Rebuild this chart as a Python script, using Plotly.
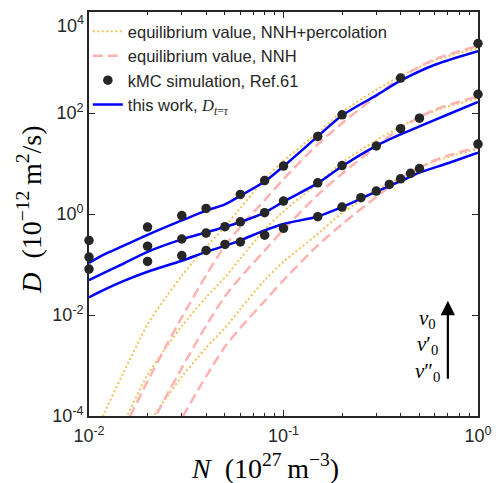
import math
import plotly.graph_objects as go

# ---------------- data ----------------
# equilibrium value, NNH+percolation (yellow dotted) for nu0, nu0', nu0''
N_perc_a = [0.011, 0.012, 0.015, 0.02, 0.025, 0.03, 0.04, 0.05, 0.06, 0.08, 0.1, 0.15, 0.2, 0.3, 0.4, 0.6, 1.0]
D_perc_a = [5.54e-5, 1.15e-4, 7.04e-4, 6.50e-3, 0.0232, 0.060, 0.224, 0.554, 1.31, 4.89, 11.3, 40.4, 104, 288, 541, 1102, 1954]
N_perc_b = [0.012, 0.015, 0.02, 0.025, 0.03, 0.04, 0.05, 0.06, 0.08, 0.1, 0.15, 0.2, 0.3, 0.4, 0.6, 1.0]
D_perc_b = [1.15e-5, 7.04e-5, 6.50e-4, 2.32e-3, 6.0e-3, 0.0224, 0.0554, 0.131, 0.489, 1.13, 4.04, 10.4, 28.8, 54.1, 110.2, 195.4]
N_perc_c = [0.015, 0.02, 0.025, 0.03, 0.04, 0.05, 0.06, 0.08, 0.1, 0.15, 0.2, 0.3, 0.4, 0.6, 1.0]
D_perc_c = [7.04e-6, 6.50e-5, 2.32e-4, 6.0e-4, 2.24e-3, 5.54e-3, 0.0131, 0.0489, 0.113, 0.404, 1.04, 2.88, 5.41, 11.02, 19.54]

# equilibrium value, NNH (pink dashed)
N_nnh_a = [0.015, 0.02, 0.025, 0.03, 0.04, 0.05, 0.06, 0.08, 0.1, 0.15, 0.2, 0.3, 0.4, 0.6, 1.0]
D_nnh_a = [5.3e-5, 4.85e-4, 2.5e-3, 8.97e-3, 0.0611, 0.234, 0.554, 1.89, 4.89, 23.9, 62.7, 217, 503, 1159, 2138]
N_nnh_b = [0.015, 0.02, 0.025, 0.03, 0.04, 0.05, 0.06, 0.08, 0.1, 0.15, 0.2, 0.3, 0.4, 0.6, 1.0]
D_nnh_b = [5.3e-6, 4.85e-5, 2.5e-4, 8.97e-4, 6.11e-3, 0.0234, 0.0554, 0.189, 0.489, 2.39, 6.27, 21.7, 50.3, 115.9, 213.8]
N_nnh_c = [0.02, 0.025, 0.03, 0.04, 0.05, 0.06, 0.08, 0.1, 0.15, 0.2, 0.3, 0.4, 0.6, 1.0]
D_nnh_c = [4.85e-6, 2.5e-5, 8.97e-5, 6.11e-4, 2.34e-3, 5.54e-3, 0.0189, 0.0489, 0.239, 0.627, 2.17, 5.03, 11.59, 21.38]

# kMC simulation, Ref.61 (black dots)
N_kmc_a = [0.01, 0.02, 0.03, 0.04, 0.06, 0.08, 0.1, 0.15, 0.2, 0.4, 1.0]
D_kmc_a = [0.30, 0.55, 0.93, 1.29, 2.44, 4.6, 8.9, 34.4, 92, 492, 2377]
N_kmc_b = [0.01, 0.02, 0.03, 0.04, 0.05, 0.06, 0.08, 0.1, 0.15, 0.2, 0.3, 0.4, 0.5, 1.0]
D_kmc_b = [0.14, 0.23, 0.32, 0.42, 0.56, 0.70, 1.06, 1.80, 4.14, 9.1, 22.2, 48.8, 79, 235]
N_kmc_c = [0.01, 0.02, 0.03, 0.04, 0.05, 0.06, 0.08, 0.1, 0.15, 0.2, 0.25, 0.3, 0.35, 0.4, 0.45, 0.5, 1.0]
D_kmc_c = [0.081, 0.115, 0.15, 0.19, 0.25, 0.28, 0.38, 0.52, 0.885, 1.37, 2.1, 2.84, 3.85, 4.97, 6.4, 7.95, 24.3]

# this work, D_{t=tau} (blue)
N_tw_a = [0.01, 0.012, 0.015, 0.02, 0.03, 0.04, 0.05, 0.06, 0.08, 0.1, 0.15, 0.2, 0.3, 0.4, 0.6, 1.0]
D_tw_a = [0.108, 0.159, 0.234, 0.386, 0.745, 1.17, 1.55, 2.3, 4.4, 8.8, 34.4, 89.3, 224, 437, 903, 1682]
N_tw_b = [0.01, 0.012, 0.015, 0.02, 0.03, 0.04, 0.05, 0.06, 0.08, 0.1, 0.15, 0.2, 0.3, 0.4, 0.5, 0.7, 1.0]
D_tw_b = [0.049, 0.0688, 0.1035, 0.178, 0.314, 0.432, 0.554, 0.696, 1.07, 1.76, 4.08, 8.83, 22.4, 37.7, 54.2, 93.4, 165]
N_tw_c = [0.01, 0.012, 0.015, 0.02, 0.03, 0.04, 0.05, 0.06, 0.08, 0.1, 0.15, 0.2, 0.3, 0.4, 0.5, 0.7, 1.0]
D_tw_c = [0.0224, 0.0318, 0.0468, 0.072, 0.1185, 0.178, 0.234, 0.301, 0.473, 0.635, 0.893, 1.37, 2.78, 4.47, 6.57, 10.1, 16.3]

x_tickvals = [0.01, 0.1, 1]
x_ticktext = ["10<sup>-2</sup>", "10<sup>-1</sup>", "10<sup>0</sup>"]
y_tickvals = [1e-4, 1e-2, 1, 1e2, 1e4]
y_ticktext = ["10<sup>-4</sup>", "10<sup>-2</sup>", "10<sup>0</sup>", "10<sup>2</sup>", ""]
y_top_label = "10<sup>4</sup>"   # drawn lowered, as in the reference, so it stays inside the figure
x_minor = [k * 10 ** e for e in (-2, -1) for k in range(2, 10)]

legend_names = ["equilibrium value, NNH+percolation", "equilibrium value, NNH",
                "kMC simulation, Ref.61",
                "this work, <span style=\"font-family:'Liberation Serif'\"><i>D</i><sub><i>t</i>=<i>τ</i></sub></span>"]

# ---------------- styles ----------------
YEL = "#F2C25C"
PINK = "#FFB2B2"
BLUE = "#0000FF"
DOT = "#262626"
AX = "#262626"

fig = go.Figure()

for i, (n, d) in enumerate([(N_perc_a, D_perc_a), (N_perc_b, D_perc_b), (N_perc_c, D_perc_c)]):
    fig.add_trace(go.Scatter(x=n, y=d, mode="lines", name=legend_names[0], showlegend=(i == 0),
                             legendrank=1,
                             line=dict(color=YEL, width=2, dash="2px,2.5px", shape="spline", smoothing=0.8)))
for i, (n, d) in enumerate([(N_nnh_a, D_nnh_a), (N_nnh_b, D_nnh_b), (N_nnh_c, D_nnh_c)]):
    fig.add_trace(go.Scatter(x=n, y=d, mode="lines", name=legend_names[1], showlegend=(i == 0),
                             legendrank=2,
                             line=dict(color=PINK, width=2.5, dash="10px,5px", shape="spline", smoothing=0.8)))
for i, (n, d) in enumerate([(N_tw_a, D_tw_a), (N_tw_b, D_tw_b), (N_tw_c, D_tw_c)]):
    fig.add_trace(go.Scatter(x=n, y=d, mode="lines", name=legend_names[3], showlegend=(i == 0),
                             legendrank=4,
                             line=dict(color=BLUE, width=2.5, shape="spline", smoothing=0.8)))
for i, (n, d) in enumerate([(N_kmc_a, D_kmc_a), (N_kmc_b, D_kmc_b), (N_kmc_c, D_kmc_c)]):
    fig.add_trace(go.Scatter(x=n, y=d, mode="markers", name=legend_names[2], showlegend=(i == 0),
                             legendrank=3, cliponaxis=False,
                             marker=dict(color=DOT, size=9.5, line=dict(width=0))))

tickfont = dict(family="Arial", size=18, color=AX)
axis_common = dict(type="log", showline=True, linecolor=AX, linewidth=1.6, mirror="ticks",
                   ticks="inside", ticklen=6, tickwidth=1.4, tickcolor=AX, showgrid=False,
                   zeroline=False, tickfont=tickfont)

fig.update_xaxes(range=[-2, 0], tickvals=x_tickvals, ticktext=x_ticktext, ticklabelstandoff=3,
                 minor=dict(tickvals=x_minor, ticks="inside", ticklen=3.5, tickwidth=1.2,
                            tickcolor=AX, showgrid=False),
                 **axis_common)
fig.update_yaxes(range=[-4, 4], tickvals=y_tickvals, ticktext=y_ticktext, **axis_common)

serif = "Liberation Serif"
annotations = [
    dict(xref="paper", yref="paper", x=-0.152, y=0.51, textangle=-90, showarrow=False,
         xanchor="center", yanchor="middle",
         text="<i>D</i>\u2002(10<sup>−12</sup>\u2009m<sup>2</sup>/s)",
         font=dict(family=serif, size=28, color="#000")),
    dict(xref="paper", yref="paper", x=0.452, y=-0.126, showarrow=False,
         xanchor="center", yanchor="middle",
         text="<i>N</i>\u2002(10<sup>27</sup>\u2009m<sup>−3</sup>)",
         font=dict(family=serif, size=28, color="#000")),
    dict(xref="paper", yref="paper", x=-0.008, y=0.968, showarrow=False,
         xanchor="right", yanchor="middle", text=y_top_label, font=tickfont),
    dict(xref="x", yref="y", axref="x", ayref="y",
         x=math.log10(0.7), y=-1.72, ax=math.log10(0.7), ay=-3.29,
         text="", showarrow=True, arrowhead=2, arrowsize=1.3, arrowwidth=2.2, arrowcolor="#000"),
]
for txt, yy in [("<i>ν</i><sub>0</sub>", 0.241), ("<i>ν</i>′<sub>0</sub>", 0.175), ("<i>ν</i>″<sub>0</sub>", 0.108)]:
    annotations.append(dict(xref="paper", yref="paper", x=0.87, y=yy, showarrow=False,
                            xanchor="center", yanchor="middle", text=txt,
                            font=dict(family=serif, size=21, color="#000")))

fig.update_layout(
    width=502, height=483,
    margin=dict(l=89, r=24, t=10, b=67),
    paper_bgcolor="white", plot_bgcolor="white",
    showlegend=True,
    legend=dict(x=-0.003, y=0.995, xanchor="left", yanchor="top", bgcolor="rgba(0,0,0,0)",
                font=dict(family="Arial", size=16.5, color=AX), borderwidth=0,
                tracegroupgap=0),
    annotations=annotations,
)

fig.write_html("out.html", config={"displayModeBar": False},
               post_script="document.body.style.margin='0';document.body.style.overflow='hidden';")
